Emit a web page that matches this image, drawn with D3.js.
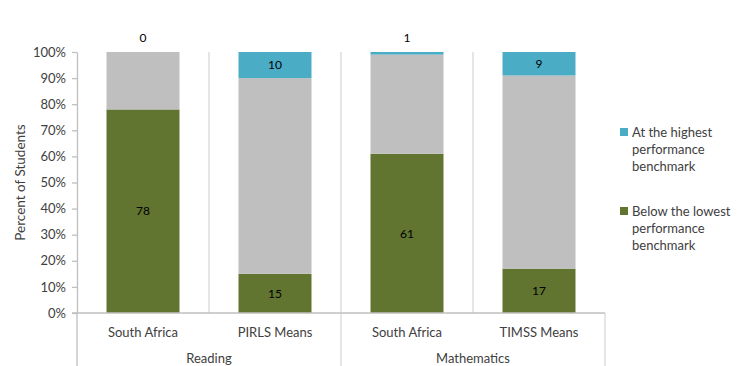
<!DOCTYPE html>
<html>
<head>
<meta charset="utf-8">
<script src="https://cdn.jsdelivr.net/npm/d3@7"></script>
<style>
  body { margin: 0; background: #fff; }
  text { font-family: Lato, "Open Sans", sans-serif; fill: #404040; }
</style>
</head>
<body>
<svg id="chart" width="746" height="366"></svg>
<script>
const categories = ['South Africa', 'PIRLS Means', 'South Africa', 'TIMSS Means'];
const groups = ['Reading', 'Mathematics'];
const belowLowest = [78, 15, 61, 17];
const atHighest = [0, 10, 1, 9];
const yTicks = [0, 10, 20, 30, 40, 50, 60, 70, 80, 90, 100];
const legendItems = [
  { label: ['At the highest', 'performance', 'benchmark'], key: 'high' },
  { label: ['Below the lowest', 'performance', 'benchmark'], key: 'low' }
];

const colors = { low: '#617430', mid: '#bfbfbf', high: '#4bacc6' };
const plot = { left: 77, right: 605, top: 52, bottom: 313 };
const svg = d3.select('#chart');

const idx = categories.map((c, i) => i);
const x = d3.scaleBand()
  .domain(idx)
  .range([plot.left, plot.right])
  .paddingInner(0.447)
  .paddingOuter(0.2235);
const step = x.step();

const y = d3.scaleLinear().domain([0, 100]).range([plot.bottom, plot.top]);

// vertical gridlines at category boundaries
idx.slice(1).forEach((i) => {
  const bx = plot.left + step * i;
  svg.append('line')
    .attr('x1', bx).attr('x2', bx)
    .attr('y1', plot.top).attr('y2', i === 2 ? 366 : plot.bottom)
    .attr('stroke', '#d9d9d9').attr('stroke-width', 1.3);
});
svg.append('line')
  .attr('x1', plot.right).attr('x2', plot.right)
  .attr('y1', plot.bottom).attr('y2', 366)
  .attr('stroke', '#d9d9d9').attr('stroke-width', 1.3);

// stacked bars
const rows = idx.map((i) => ({
  i,
  low: belowLowest[i],
  high: atHighest[i],
  mid: 100 - belowLowest[i] - atHighest[i]
}));
const stack = d3.stack().keys(['low', 'mid', 'high'])(rows);

svg.append('g').selectAll('g')
  .data(stack)
  .enter().append('g')
  .attr('fill', (d) => colors[d.key])
  .selectAll('rect')
  .data((d) => d)
  .enter().append('rect')
  .attr('x', (d) => x(d.data.i))
  .attr('width', x.bandwidth())
  .attr('y', (d) => y(d[1]))
  .attr('height', (d) => y(d[0]) - y(d[1]));

// value labels
rows.forEach((r) => {
  const cx = x(r.i) + x.bandwidth() / 2;
  svg.append('text')
    .attr('x', cx).attr('y', y(r.low / 2)).attr('dy', '0.35em')
    .attr('text-anchor', 'middle').style('font-size', '12px').style('fill', '#000')
    .text(r.low);
  const hy = r.high < 3 ? y(100) - 14 : y(100 - r.high / 2);
  svg.append('text')
    .attr('x', cx).attr('y', hy).attr('dy', '0.35em')
    .attr('text-anchor', 'middle').style('font-size', '12px').style('fill', '#000')
    .text(r.high);
});

// y axis
const yAxis = svg.append('g')
  .attr('transform', 'translate(' + plot.left + ',0)')
  .call(d3.axisLeft(y).tickValues(yTicks).tickFormat((d) => d + '%').tickSize(5).tickSizeOuter(0));
yAxis.select('.domain').attr('stroke', '#bfbfbf').attr('stroke-width', 1.3);
yAxis.selectAll('.tick line').attr('stroke', '#bfbfbf').attr('stroke-width', 1.3);
yAxis.selectAll('.tick text').attr('x', -11).style('font-size', '13px').style('font-family', 'Lato, sans-serif').style('fill', '#404040');
svg.append('line')
  .attr('x1', plot.left).attr('x2', plot.left)
  .attr('y1', plot.bottom).attr('y2', 366)
  .attr('stroke', '#bfbfbf').attr('stroke-width', 1.3);

// x axis line
svg.append('line')
  .attr('x1', plot.left - 5).attr('x2', plot.right)
  .attr('y1', plot.bottom).attr('y2', plot.bottom)
  .attr('stroke', '#bfbfbf').attr('stroke-width', 1.3);

// category labels
svg.append('g').selectAll('text')
  .data(idx)
  .enter().append('text')
  .attr('x', (i) => x(i) + x.bandwidth() / 2)
  .attr('y', 332).attr('dy', '0.35em')
  .attr('text-anchor', 'middle').style('font-size', '13px')
  .text((i) => categories[i]);

// group labels
svg.append('g').selectAll('text')
  .data(groups)
  .enter().append('text')
  .attr('x', (g, j) => plot.left + step * (2 * j + 1))
  .attr('y', 358).attr('dy', '0.35em')
  .attr('text-anchor', 'middle').style('font-size', '13px')
  .text((g) => g);

// y title
svg.append('text')
  .attr('transform', 'translate(20,' + ((plot.top + plot.bottom) / 2) + ') rotate(-90)')
  .attr('text-anchor', 'middle').attr('dy', '0.35em')
  .style('font-size', '13.5px')
  .text('Percent of Students');

// legend
const legend = svg.append('g').attr('transform', 'translate(620,0)');
legendItems.forEach((item, k) => {
  const top = 132 + k * 79;
  legend.append('rect')
    .attr('x', 0).attr('y', top - 4).attr('width', 8).attr('height', 8)
    .attr('fill', colors[item.key]);
  item.label.forEach((line, l) => {
    legend.append('text')
      .attr('x', 12).attr('y', top + l * 17).attr('dy', '0.35em')
      .style('font-size', '13px')
      .text(line);
  });
});
</script>
</body>
</html>
